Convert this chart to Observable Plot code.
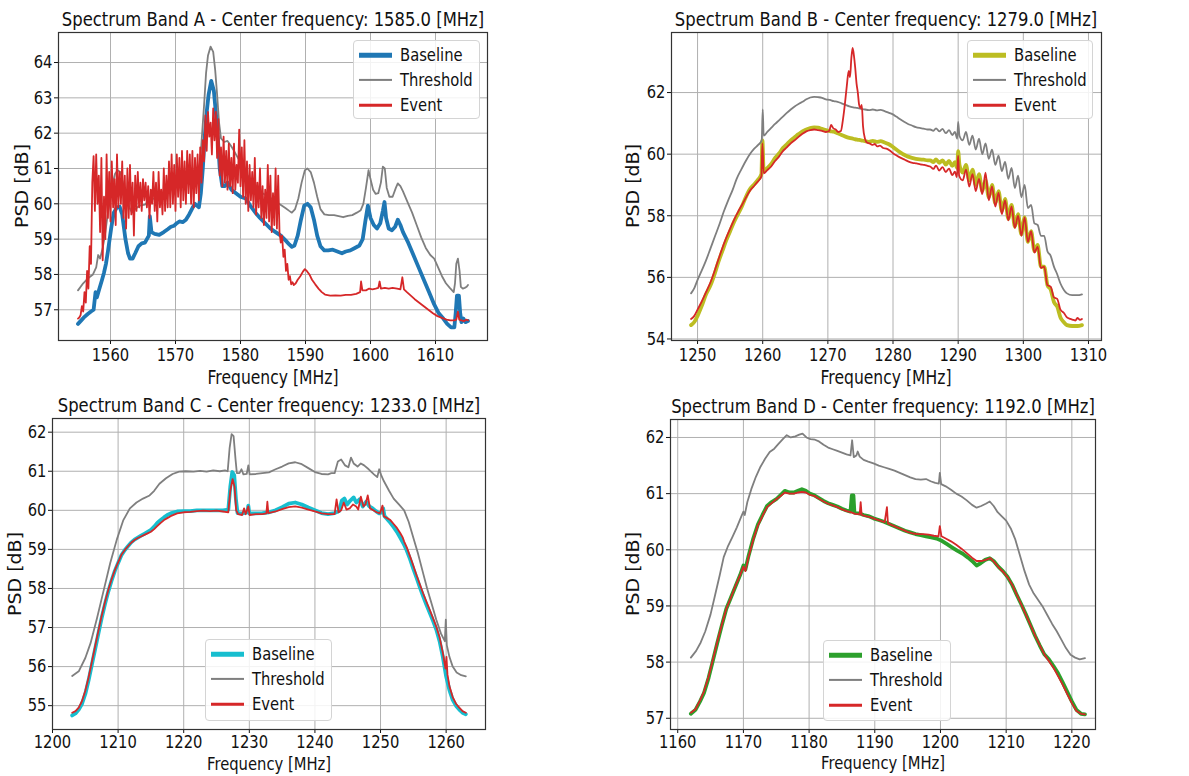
<!DOCTYPE html>
<html>
<head>
<meta charset="utf-8">
<script src="https://cdn.jsdelivr.net/npm/d3@7"></script>
<script src="https://cdn.jsdelivr.net/npm/@observablehq/plot@0.6"></script>
<style>
  html, body { margin: 0; padding: 0; background: #fff; }
  #root { position: relative; width: 1189px; height: 776px; background: #fff; font-family: "DejaVu Sans", sans-serif; color: #111; overflow: hidden; }
  .txt { position: absolute; white-space: nowrap; line-height: 1; }
  .legend { position: absolute; border: 1px solid #d4d4d4; border-radius: 4px; background: rgba(255,255,255,0.85); box-sizing: border-box; }
  .legend .row { position: absolute; left: 0; right: 0; height: 0; }
  .legend .sw { position: absolute; transform: translateY(-50%); }
  .legend .lb { position: absolute; transform: translateY(-50%) scaleX(0.82); transform-origin: 0 50%; font-size: 18px; white-space: nowrap; line-height: 1; }
  svg { position: absolute; }
</style>
</head>
<body>
<div id="root"></div>
<script>
// ---------------- DATA ----------------
const seriesNames = ["Baseline", "Threshold", "Event"];
const titles = [
  "Spectrum Band A - Center frequency: 1585.0 [MHz]",
  "Spectrum Band B - Center frequency: 1279.0 [MHz]",
  "Spectrum Band C - Center frequency: 1233.0 [MHz]",
  "Spectrum Band D - Center frequency: 1192.0 [MHz]"
];
const baselineColors = ["#1f77b4", "#bcbd22", "#17becf", "#2ca02c"];

// Band A
const aTicksX = [1560, 1570, 1580, 1590, 1600, 1610];
const aTicksY = [57, 58, 59, 60, 61, 62, 63, 64];
const aBaseline = [[1555,56.6],[1555.5,56.7],[1556,56.8],[1556.5,56.88],[1557,56.95],[1557.4,57.0],[1557.7,57.5],[1557.9,57.35],[1558.3,57.6],[1558.7,57.85],[1559,58.05],[1559.3,58.3],[1559.6,58.65],[1560.1,59.3],[1560.5,59.75],[1561,59.9],[1561.4,59.92],[1561.8,59.7],[1562.3,59.0],[1562.7,58.6],[1563,58.45],[1563.4,58.45],[1563.8,58.6],[1564.3,58.8],[1564.8,58.88],[1565.3,58.9],[1565.9,59.1],[1566.05,59.65],[1566.3,59.2],[1566.8,59.15],[1567.5,59.12],[1568.2,59.2],[1568.8,59.28],[1569.3,59.35],[1569.8,59.38],[1570.2,59.45],[1570.6,59.5],[1571.1,59.48],[1571.6,59.55],[1572.1,59.7],[1572.6,59.88],[1573,60.0],[1573.3,59.95],[1573.6,59.9],[1573.9,60.3],[1574.2,61.0],[1574.5,61.9],[1574.8,62.6],[1575.1,63.1],[1575.5,63.48],[1575.9,63.2],[1576.2,62.6],[1576.5,61.9],[1576.8,61.0],[1577.2,60.5],[1577.6,60.5],[1578,60.6],[1578.6,60.4],[1579.3,60.3],[1580,60.2],[1580.8,60.15],[1581.5,59.95],[1582.3,59.75],[1583,59.6],[1583.8,59.45],[1584.6,59.3],[1585.4,59.2],[1586.2,59.1],[1587,58.95],[1587.5,58.85],[1587.9,58.78],[1588.3,58.82],[1588.8,59.1],[1589.3,59.55],[1589.8,59.95],[1590.3,60.0],[1590.8,59.9],[1591.3,59.55],[1591.8,59.1],[1592.3,58.8],[1592.9,58.68],[1593.5,58.68],[1594.2,58.7],[1594.9,58.65],[1595.6,58.6],[1596.2,58.65],[1596.9,58.68],[1597.6,58.75],[1598.3,58.82],[1598.8,59.0],[1599.2,59.5],[1599.6,59.95],[1600,59.6],[1600.5,59.4],[1601,59.3],[1601.5,59.45],[1601.9,59.8],[1602.15,60.05],[1602.4,59.6],[1602.8,59.3],[1603.3,59.25],[1603.8,59.35],[1604.2,59.55],[1604.6,59.4],[1605,59.2],[1605.8,58.9],[1606.6,58.55],[1607.4,58.2],[1608.2,57.85],[1609,57.5],[1609.8,57.15],[1610.5,56.9],[1611.2,56.75],[1611.8,56.6],[1612.4,56.5],[1612.9,56.5],[1613.1,56.9],[1613.3,57.4],[1613.6,57.4],[1613.8,56.9],[1614,56.65],[1614.3,56.75],[1614.6,56.65],[1615,56.68]];
const aThreshold = [[1555,57.55],[1555.8,57.75],[1556.6,57.9],[1557.3,58.0],[1557.8,58.2],[1558.1,58.55],[1558.4,58.45],[1558.8,58.75],[1559.1,59.05],[1559.5,59.6],[1559.9,60.1],[1560.3,60.55],[1560.7,60.85],[1561.1,60.95],[1561.5,60.9],[1561.9,60.6],[1562.4,60.2],[1562.9,59.9],[1563.3,59.75],[1563.8,59.85],[1564.5,59.95],[1565.3,59.98],[1566,60.1],[1566.7,60.15],[1567.5,60.2],[1568.3,60.3],[1569,60.38],[1569.8,60.45],[1570.6,60.5],[1571.4,60.58],[1572.2,60.62],[1572.9,60.7],[1573.4,60.8],[1573.8,61.2],[1574.1,62.0],[1574.4,62.8],[1574.7,63.7],[1575,64.2],[1575.4,64.45],[1575.8,64.3],[1576.1,63.8],[1576.4,63.1],[1576.7,62.3],[1577,61.85],[1577.5,61.75],[1578,61.78],[1578.5,61.65],[1579,61.5],[1579.6,61.3],[1580.2,61.1],[1580.9,60.85],[1581.7,60.65],[1582.5,60.48],[1583.4,60.3],[1584.3,60.2],[1585.2,60.1],[1586.1,59.98],[1586.9,59.88],[1587.5,59.8],[1587.9,59.75],[1588.4,59.85],[1588.9,60.15],[1589.4,60.6],[1589.9,60.95],[1590.3,61.0],[1590.8,60.9],[1591.3,60.6],[1591.8,60.2],[1592.3,59.85],[1592.9,59.7],[1593.6,59.68],[1594.4,59.68],[1595.1,59.65],[1595.8,59.62],[1596.5,59.66],[1597.2,59.68],[1597.9,59.75],[1598.5,59.82],[1598.9,60.0],[1599.3,60.45],[1599.7,60.95],[1600,60.7],[1600.4,60.4],[1600.8,60.28],[1601.2,60.3],[1601.6,60.6],[1601.9,61.05],[1602.2,61.0],[1602.5,60.45],[1602.9,60.2],[1603.4,60.2],[1603.9,60.45],[1604.2,60.58],[1604.6,60.5],[1605,60.35],[1605.7,60.05],[1606.4,59.75],[1607.1,59.4],[1607.8,59.05],[1608.5,58.75],[1609.2,58.55],[1609.8,58.45],[1610.4,58.2],[1611,57.95],[1611.6,57.75],[1612.2,57.62],[1612.8,57.5],[1613,57.75],[1613.2,58.3],[1613.45,58.45],[1613.7,58.1],[1613.9,57.65],[1614.2,57.6],[1614.5,57.62],[1614.8,57.65],[1615,57.7]];
// Band A event: noisy section sampled from 1555.0 MHz every 0.2 MHz through 1586.0 MHz
const aEventFineStart = 1555;
const aEventFineStep = 0.2;
const aEventFine = [
  56.75, 56.78, 56.85, 57.1, 56.95,
  57.5, 57.2, 58.1, 57.6, 58.8,
  58.3, 60.6, 61.35, 59.8, 61.4,
  60.0, 60.8, 59.2, 61.3, 58.4,
  60.2, 59.0, 61.4, 59.6, 60.9,
  59.5, 61.2, 59.9, 60.7, 59.4,
  61.4, 59.9, 60.9, 60.0, 61.2,
  59.6, 60.8, 59.3, 61.0, 59.6,
  61.1, 59.7, 60.6, 59.1, 60.8,
  59.8, 60.9, 59.9, 60.6, 59.8,
  60.7, 60.1, 60.6, 59.9, 60.5,
  59.6, 60.4, 60.0, 60.9, 59.8,
  60.6, 59.5, 60.9, 59.9, 60.4,
  59.7, 61.0, 59.8, 60.8, 59.9,
  61.2, 59.9, 61.4, 60.0, 61.1,
  59.8, 61.4, 60.2, 61.3, 59.9,
  61.5, 60.1, 61.2, 60.0, 61.5,
  60.3, 61.4, 60.0, 61.5, 59.9,
  61.3, 60.3, 61.4, 60.1, 61.6,
  60.6, 61.8, 61.2, 62.5, 61.5,
  62.6, 61.9, 62.3, 61.4, 62.7,
  61.8, 62.6, 61.3, 62.4, 60.8,
  61.6, 60.5, 61.9, 60.6, 61.5,
  60.4, 61.7, 60.5, 61.3, 60.3,
  61.7, 60.4, 61.1, 60.6, 62.1,
  60.5, 61.6, 60.2, 61.8, 60.0,
  61.2, 59.8, 61.1, 60.1, 60.9,
  59.9, 61.3, 59.7, 60.6, 59.9,
  61.0, 59.6, 60.5, 59.4, 60.4,
  59.6, 61.1, 59.5, 60.8, 59.2,
  60.3, 59.4, 61.0, 59.3, 60.8,
  59.2
];
const aEventTail = [[1586.2,58.9],[1586.4,59.1],[1586.6,58.5],[1586.8,58.7],[1587,58.1],[1587.2,58.3],[1587.4,57.85],[1587.6,57.95],[1587.8,57.72],[1588,57.78],[1588.2,57.7],[1588.5,57.75],[1588.8,57.85],[1589.2,57.95],[1589.6,58.08],[1589.9,58.15],[1590.2,58.1],[1590.6,58.0],[1591.0,57.85],[1591.5,57.72],[1592,57.6],[1592.5,57.5],[1593,57.43],[1593.8,57.4],[1594.6,57.41],[1595.4,57.4],[1596.2,57.42],[1597,57.42],[1597.8,57.45],[1598.4,57.5],[1598.55,57.8],[1598.75,57.55],[1599.3,57.55],[1599.8,57.6],[1600.3,57.58],[1600.8,57.6],[1601.2,57.62],[1601.4,57.8],[1601.6,57.6],[1602.2,57.62],[1602.8,57.6],[1603.4,57.62],[1604.1,57.6],[1604.6,57.58],[1604.9,57.92],[1605.15,57.58],[1605.6,57.5],[1606.2,57.4],[1606.8,57.3],[1607.5,57.2],[1608.2,57.1],[1608.9,57.0],[1609.6,56.9],[1610.3,56.82],[1611,56.77],[1611.7,56.72],[1612.3,56.7],[1612.9,56.7],[1613.2,56.72],[1613.45,56.95],[1613.65,56.72],[1614,56.7],[1614.4,56.68],[1614.7,56.72],[1615,56.7]];

// Band B
const bTicksX = [1250, 1260, 1270, 1280, 1290, 1300, 1310];
const bTicksY = [54, 56, 58, 60, 62];
const bBaseline = [[1249,54.45],[1249.5,54.55],[1250,54.75],[1250.6,55.05],[1251.3,55.45],[1252,55.75],[1252.6,56.1],[1253.2,56.5],[1253.8,56.85],[1254.4,57.2],[1255,57.5],[1255.6,57.8],[1256.2,58.05],[1256.8,58.3],[1257.4,58.6],[1258,58.85],[1258.6,59.0],[1259.2,59.15],[1259.8,59.35],[1259.95,60.45],[1260.15,59.45],[1260.7,59.55],[1261.3,59.68],[1261.9,59.88],[1262.5,60.02],[1263.1,60.2],[1263.7,60.32],[1264.3,60.45],[1264.9,60.55],[1265.5,60.65],[1266.1,60.74],[1266.7,60.8],[1267.3,60.85],[1267.9,60.87],[1268.5,60.86],[1269.1,60.82],[1269.7,60.78],[1270.3,60.75],[1270.9,60.73],[1271.5,60.68],[1272.1,60.62],[1272.7,60.57],[1273.3,60.53],[1273.9,60.5],[1274.5,60.47],[1275.1,60.45],[1275.7,60.42],[1276.3,60.4],[1276.9,60.43],[1277.5,60.4],[1278.1,60.42],[1278.7,60.38],[1279.3,60.33],[1279.9,60.25],[1280.5,60.15],[1281.1,60.06],[1281.7,59.98],[1282.3,59.92],[1282.9,59.88],[1283.5,59.85],[1284.1,59.83],[1284.7,59.82],[1285.3,59.8],[1285.7,59.8],[1286.2,59.74],[1286.6,59.83],[1287.1,59.72],[1287.6,59.8],[1288.1,59.66],[1288.6,59.78],[1289.1,59.62],[1289.5,59.74],[1289.85,59.55],[1290.0,60.1],[1290.2,59.65],[1290.7,59.4],[1291.2,59.65],[1291.7,59.15],[1292.2,59.5],[1292.7,59.0],[1293.2,59.35],[1293.7,58.8],[1294.2,59.15],[1294.7,58.6],[1295.2,59.0],[1295.7,58.4],[1296.2,58.8],[1296.7,58.15],[1297.2,58.55],[1297.7,57.9],[1298.2,58.35],[1298.7,57.65],[1299.2,58.05],[1299.7,57.4],[1300.2,57.95],[1300.7,57.15],[1301.2,57.5],[1301.7,56.85],[1302.2,57.05],[1302.7,56.35],[1303.2,56.35],[1303.7,55.75],[1304.2,55.6],[1304.7,55.2],[1305.2,55.05],[1305.7,54.7],[1306.2,54.55],[1306.7,54.45],[1307.5,54.42],[1308.3,54.42],[1309,54.45]];
const bThreshold = [[1249,55.48],[1249.5,55.65],[1250,55.92],[1250.6,56.2],[1251.3,56.55],[1252,56.95],[1252.7,57.35],[1253.4,57.75],[1254,58.12],[1254.7,58.5],[1255.4,58.85],[1256,59.2],[1256.7,59.5],[1257.4,59.78],[1258.1,60.02],[1258.7,60.18],[1259.3,60.3],[1259.85,60.45],[1260,61.45],[1260.15,60.6],[1260.7,60.72],[1261.3,60.85],[1261.9,60.98],[1262.5,61.1],[1263.1,61.22],[1263.7,61.34],[1264.3,61.45],[1264.9,61.55],[1265.5,61.63],[1266.1,61.7],[1266.7,61.78],[1267.3,61.84],[1267.9,61.86],[1268.5,61.85],[1269.1,61.83],[1269.7,61.78],[1270.3,61.76],[1270.9,61.72],[1271.5,61.7],[1272.1,61.65],[1272.7,61.6],[1273.3,61.55],[1273.9,61.52],[1274.5,61.5],[1275.1,61.47],[1275.7,61.45],[1276.3,61.43],[1276.9,61.45],[1277.5,61.42],[1278.1,61.44],[1278.7,61.4],[1279.3,61.35],[1279.9,61.3],[1280.5,61.22],[1281.1,61.13],[1281.7,61.05],[1282.3,60.98],[1282.9,60.93],[1283.5,60.88],[1284.1,60.85],[1284.7,60.83],[1285.3,60.8],[1285.7,60.8],[1286.2,60.76],[1286.6,60.84],[1287.1,60.74],[1287.6,60.82],[1288.1,60.68],[1288.6,60.78],[1289.1,60.62],[1289.5,60.72],[1289.85,60.5],[1290.0,61.05],[1290.2,60.6],[1290.7,60.45],[1291.2,60.72],[1291.7,60.3],[1292.2,60.6],[1292.7,60.15],[1293.2,60.5],[1293.7,60.0],[1294.2,60.35],[1294.7,59.85],[1295.2,60.15],[1295.7,59.65],[1296.2,59.95],[1296.7,59.45],[1297.2,59.75],[1297.7,59.2],[1298.2,59.55],[1298.7,58.9],[1299.2,59.3],[1299.7,58.6],[1300.2,59.0],[1300.7,58.25],[1301.2,58.35],[1301.7,57.75],[1302.2,57.7],[1302.7,57.35],[1303.2,57.35],[1303.7,56.85],[1304.2,56.7],[1304.7,56.35],[1305.2,56.1],[1305.7,55.8],[1306.2,55.6],[1306.7,55.48],[1307.5,55.42],[1308.3,55.42],[1309,55.45]];
const bEvent = [[1249,54.65],[1249.5,54.75],[1250,54.95],[1250.6,55.2],[1251.3,55.52],[1252,55.85],[1252.6,56.2],[1253.2,56.58],[1253.8,56.95],[1254.4,57.28],[1255,57.58],[1255.6,57.87],[1256.2,58.12],[1256.8,58.35],[1257.4,58.58],[1258,58.8],[1258.6,58.95],[1259.2,59.1],[1259.8,59.28],[1259.95,60.35],[1260.15,59.38],[1260.7,59.48],[1261.3,59.6],[1261.9,59.78],[1262.5,59.92],[1263.1,60.1],[1263.7,60.22],[1264.3,60.35],[1264.9,60.45],[1265.5,60.56],[1266.1,60.66],[1266.7,60.74],[1267.3,60.78],[1267.9,60.8],[1268.5,60.78],[1269.1,60.76],[1269.7,60.72],[1270.2,60.75],[1270.5,60.95],[1270.8,60.85],[1271.2,60.8],[1271.6,60.72],[1272.0,60.75],[1272.3,61.1],[1272.6,61.6],[1272.9,62.2],[1273.2,62.7],[1273.4,62.5],[1273.6,63.1],[1273.8,63.45],[1274.0,63.2],[1274.2,62.8],[1274.4,62.3],[1274.6,62.0],[1274.8,61.6],[1275.0,61.5],[1275.2,61.6],[1275.4,60.9],[1275.7,60.5],[1276.0,60.38],[1276.4,60.35],[1276.8,60.3],[1277.2,60.33],[1277.6,60.25],[1278.0,60.28],[1278.5,60.2],[1279.0,60.18],[1279.5,60.12],[1280,60.03],[1280.6,59.95],[1281.2,59.88],[1281.8,59.82],[1282.4,59.76],[1283,59.72],[1283.6,59.7],[1284.2,59.67],[1284.8,59.65],[1285.3,59.62],[1285.7,59.6],[1286.2,59.52],[1286.6,59.63],[1287.1,59.47],[1287.6,59.58],[1288.1,59.42],[1288.6,59.53],[1289.1,59.32],[1289.5,59.43],[1289.8,59.25],[1290.0,59.95],[1290.15,59.3],[1290.7,59.15],[1291.2,59.5],[1291.7,58.95],[1292.2,59.35],[1292.7,58.8],[1293.2,59.2],[1293.7,58.7],[1294.2,59.4],[1294.7,58.5],[1295.2,58.95],[1295.7,58.3],[1296.2,58.75],[1296.7,58.05],[1297.2,58.5],[1297.7,57.85],[1298.2,58.3],[1298.7,57.6],[1299.2,58.0],[1299.7,57.35],[1300.2,57.95],[1300.7,57.15],[1301.2,57.5],[1301.7,56.8],[1302.2,57.0],[1302.7,56.3],[1303.2,56.35],[1303.7,55.75],[1304.2,55.7],[1304.7,55.35],[1305.2,55.3],[1305.7,54.95],[1306.2,54.85],[1306.7,54.7],[1307.2,54.65],[1307.7,54.62],[1308.0,54.6],[1308.3,54.68],[1308.7,54.62],[1309.0,54.65]];

// Band C
const cTicksX = [1200, 1210, 1220, 1230, 1240, 1250, 1260];
const cTicksY = [55, 56, 57, 58, 59, 60, 61, 62];
const cBaseline = [[1203,54.75],[1203.5,54.8],[1204,54.9],[1204.5,55.05],[1205,55.3],[1205.5,55.65],[1206,56.05],[1206.5,56.45],[1207,56.85],[1207.5,57.25],[1208,57.6],[1208.5,57.92],[1209,58.2],[1209.5,58.45],[1210,58.65],[1210.5,58.85],[1211,58.98],[1211.5,59.08],[1212,59.18],[1212.5,59.25],[1213,59.3],[1213.5,59.35],[1214,59.4],[1214.5,59.45],[1215,59.5],[1215.5,59.58],[1216,59.68],[1216.5,59.75],[1217,59.82],[1217.5,59.88],[1218,59.92],[1219,59.97],[1220,59.98],[1221,59.98],[1222,60.0],[1223,60.0],[1224,60.0],[1225,60.0],[1226,60.0],[1226.8,60.02],[1227.1,60.6],[1227.4,60.98],[1227.7,60.9],[1227.95,60.3],[1228.2,59.93],[1229,59.92],[1229.7,59.95],[1229.85,60.12],[1230.0,59.92],[1231,59.92],[1232,59.93],[1233,59.95],[1234,60.0],[1235,60.08],[1236,60.17],[1237,60.2],[1238,60.15],[1239,60.07],[1240,60.0],[1241,59.93],[1242,59.9],[1243,59.93],[1243.7,59.98],[1244.1,60.25],[1244.5,60.3],[1244.9,60.15],[1245.4,60.25],[1245.9,60.33],[1246.3,60.2],[1246.8,60.28],[1247.3,60.1],[1247.8,60.22],[1248.3,60.1],[1248.8,60.05],[1249.3,59.98],[1249.8,59.92],[1250.2,59.95],[1250.4,60.05],[1250.6,59.85],[1251,59.78],[1251.5,59.68],[1252,59.57],[1252.5,59.45],[1253,59.3],[1253.5,59.15],[1254,58.97],[1254.5,58.75],[1255,58.5],[1255.5,58.27],[1256,58.03],[1256.5,57.8],[1257,57.58],[1257.5,57.38],[1258,57.17],[1258.5,56.95],[1259,56.65],[1259.5,56.25],[1260,55.75],[1260.5,55.4],[1261,55.15],[1261.5,55.0],[1262,54.9],[1262.5,54.82],[1263,54.78]];
const cThreshold = [[1203,55.76],[1204,55.88],[1205,56.22],[1205.8,56.6],[1206.8,57.25],[1207.8,57.95],[1208.8,58.65],[1209.8,59.25],[1210.8,59.75],[1211.8,60.05],[1212.8,60.2],[1213.8,60.3],[1214.8,60.38],[1215.5,60.5],[1216.3,60.68],[1217.3,60.82],[1218.3,60.93],[1219.3,60.99],[1220.3,61.0],[1221.5,60.99],[1222.5,61.01],[1223.5,60.99],[1224.5,61.02],[1225.5,61.0],[1226.3,61.02],[1226.7,61.0],[1227,61.6],[1227.3,61.95],[1227.6,61.9],[1227.9,61.3],[1228.1,60.95],[1228.5,60.95],[1228.8,61.05],[1229.1,60.92],[1229.6,60.93],[1229.85,61.15],[1230.05,60.92],[1231,60.93],[1232,60.95],[1233,60.97],[1234,61.05],[1235,61.12],[1236,61.2],[1237,61.23],[1238,61.18],[1239,61.08],[1240,60.98],[1241,60.93],[1242,60.92],[1242.5,60.95],[1243,60.95],[1243.5,61.25],[1244,61.3],[1244.6,61.15],[1245.1,61.1],[1245.5,61.35],[1245.9,61.2],[1246.5,61.12],[1247,61.2],[1247.5,61.15],[1248.2,61.05],[1249,60.92],[1249.5,60.85],[1249.8,61.05],[1250.1,60.9],[1250.5,60.75],[1251.3,60.5],[1252,60.3],[1252.8,60.15],[1253.6,60.0],[1254.3,59.7],[1255,59.3],[1255.7,58.9],[1256.4,58.45],[1257.1,58.0],[1257.8,57.6],[1258.5,57.2],[1259.2,56.85],[1259.8,56.65],[1259.95,57.2],[1260.1,56.55],[1260.5,56.25],[1261,56.0],[1261.6,55.85],[1262.3,55.78],[1263,55.75]];
const cEvent = [[1203,54.82],[1203.5,54.86],[1204,54.95],[1204.5,55.12],[1205,55.38],[1205.5,55.72],[1206,56.12],[1206.5,56.52],[1207,56.92],[1207.5,57.3],[1208,57.65],[1208.5,57.96],[1209,58.23],[1209.5,58.47],[1210,58.67],[1210.5,58.86],[1211,58.98],[1211.5,59.08],[1212,59.17],[1212.5,59.24],[1213,59.29],[1213.5,59.33],[1214,59.37],[1214.5,59.41],[1215,59.45],[1215.5,59.52],[1216,59.6],[1216.5,59.68],[1217,59.75],[1217.5,59.8],[1218,59.85],[1219,59.92],[1220,59.95],[1221,59.96],[1222,59.98],[1223,59.99],[1224,59.98],[1225,59.99],[1226,59.97],[1226.8,59.95],[1227.1,60.5],[1227.45,60.8],[1227.75,60.6],[1228,60.0],[1228.3,59.9],[1228.9,59.88],[1229.2,60.05],[1229.45,59.9],[1229.85,60.1],[1230.05,59.88],[1231,59.9],[1232,59.9],[1232.6,59.92],[1232.75,60.22],[1232.9,59.93],[1234,59.97],[1235,60.03],[1236,60.08],[1237,60.1],[1238,60.07],[1239,60.02],[1240,59.97],[1241,59.92],[1242,59.9],[1243,59.9],[1243.3,60.28],[1243.6,59.95],[1244,60.0],[1244.4,60.2],[1244.8,60.02],[1245.3,60.05],[1245.8,60.15],[1246.3,60.1],[1246.6,60.02],[1247,60.35],[1247.4,60.1],[1247.7,60.15],[1248.05,60.38],[1248.4,60.05],[1248.9,60.0],[1249.4,59.95],[1249.9,59.92],[1250.3,60.12],[1250.5,59.85],[1251,59.8],[1251.5,59.75],[1252,59.65],[1252.5,59.55],[1253,59.42],[1253.4,59.3],[1253.6,59.2],[1254,59.05],[1254.5,58.82],[1255,58.58],[1255.5,58.33],[1256,58.1],[1256.5,57.87],[1257,57.66],[1257.5,57.45],[1258,57.24],[1258.5,57.02],[1259,56.75],[1259.5,56.35],[1259.9,55.95],[1260.05,56.25],[1260.2,55.8],[1260.5,55.5],[1261,55.22],[1261.5,55.05],[1262,54.95],[1262.5,54.86],[1263,54.82]];

// Band D
const dTicksX = [1160, 1170, 1180, 1190, 1200, 1210, 1220];
const dTicksY = [57, 58, 59, 60, 61, 62];
const dBaseline = [[1162,57.08],[1162.7,57.15],[1163.4,57.3],[1164,57.45],[1164.7,57.72],[1165.3,58.0],[1166,58.33],[1166.7,58.65],[1167.4,58.95],[1168.1,59.15],[1168.8,59.35],[1169.5,59.55],[1170,59.72],[1170.3,59.65],[1170.8,59.9],[1171.5,60.2],[1172.2,60.45],[1172.9,60.62],[1173.6,60.78],[1174.3,60.85],[1175,60.9],[1175.7,60.98],[1176.3,61.05],[1177,61.02],[1177.7,61.02],[1178.3,61.05],[1178.9,61.08],[1179.5,61.05],[1180.1,61.0],[1180.8,60.97],[1181.5,60.92],[1182.2,60.87],[1182.9,60.83],[1183.6,60.8],[1184.3,60.77],[1185,60.73],[1185.7,60.7],[1186.3,60.68],[1186.5,60.97],[1186.75,60.97],[1186.9,60.66],[1187.6,60.65],[1188.3,60.62],[1189,60.6],[1189.8,60.56],[1190.6,60.53],[1191.4,60.5],[1192.2,60.46],[1193,60.42],[1193.8,60.38],[1194.6,60.34],[1195.4,60.31],[1196.2,60.28],[1197,60.26],[1197.8,60.24],[1198.6,60.22],[1199.4,60.2],[1200.2,60.16],[1201,60.1],[1201.8,60.04],[1202.6,59.98],[1203.4,59.93],[1204.2,59.86],[1205,59.78],[1205.5,59.72],[1206.1,59.76],[1206.8,59.82],[1207.5,59.85],[1208.1,59.8],[1208.8,59.7],[1209.5,59.62],[1210.2,59.52],[1210.9,59.38],[1211.6,59.2],[1212.3,59.03],[1213,58.85],[1213.7,58.66],[1214.4,58.47],[1215.1,58.3],[1215.8,58.14],[1216.5,58.05],[1217.2,57.93],[1217.9,57.8],[1218.6,57.64],[1219.3,57.47],[1220,57.3],[1220.7,57.15],[1221.4,57.08],[1222,57.07]];
const dThreshold = [[1162,58.08],[1162.8,58.2],[1163.5,58.35],[1164.2,58.55],[1165,58.85],[1165.7,59.2],[1166.4,59.55],[1167,59.87],[1167.6,60.05],[1168.3,60.22],[1169,60.4],[1169.7,60.6],[1170,60.68],[1170.2,60.62],[1170.6,60.85],[1171.2,61.08],[1171.9,61.3],[1172.6,61.48],[1173.3,61.62],[1174,61.74],[1174.7,61.8],[1175.3,61.88],[1176,61.97],[1176.6,62.04],[1177.2,62.0],[1177.9,62.02],[1178.5,62.05],[1179,62.07],[1179.6,62.0],[1180.2,61.97],[1180.9,61.96],[1181.5,61.93],[1182.2,61.87],[1182.9,61.82],[1183.6,61.79],[1184.3,61.76],[1185,61.73],[1185.7,61.7],[1186.3,61.68],[1186.55,61.95],[1186.8,61.65],[1187.2,61.68],[1187.4,61.75],[1187.7,61.66],[1188.3,61.6],[1189,61.57],[1189.8,61.54],[1190.6,61.5],[1191.4,61.47],[1192.2,61.44],[1193,61.41],[1193.8,61.37],[1194.6,61.33],[1195.4,61.29],[1196.2,61.26],[1197,61.25],[1197.8,61.26],[1198.5,61.22],[1199.2,61.19],[1199.75,61.18],[1199.9,61.37],[1200.1,61.17],[1200.8,61.13],[1201.6,61.07],[1202.4,61.0],[1203.2,60.95],[1204,60.88],[1204.8,60.8],[1205.5,60.75],[1206.2,60.78],[1206.9,60.82],[1207.5,60.86],[1208.1,60.78],[1208.7,60.67],[1209.3,60.6],[1210,60.52],[1210.7,60.38],[1211.4,60.18],[1212.1,59.9],[1212.8,59.62],[1213.5,59.38],[1214.2,59.22],[1214.9,59.1],[1215.6,58.98],[1216.3,58.83],[1217,58.68],[1217.7,58.55],[1218.4,58.4],[1219.1,58.25],[1219.8,58.13],[1220.5,58.08],[1221.2,58.05],[1222,58.07]];
const dEvent = [[1162,57.1],[1162.7,57.16],[1163.4,57.32],[1164,57.48],[1164.7,57.74],[1165.3,58.02],[1166,58.35],[1166.7,58.66],[1167.4,58.95],[1168.1,59.15],[1168.8,59.36],[1169.5,59.55],[1170,59.7],[1170.3,59.62],[1170.8,59.88],[1171.5,60.18],[1172.2,60.43],[1172.9,60.6],[1173.6,60.76],[1174.3,60.83],[1175,60.9],[1175.7,60.96],[1176.3,61.02],[1177,61.0],[1177.7,61.0],[1178.3,61.02],[1178.9,61.03],[1179.5,61.02],[1180.1,60.98],[1180.8,60.96],[1181.5,60.91],[1182.2,60.86],[1182.9,60.82],[1183.6,60.79],[1184.3,60.76],[1185,60.72],[1185.7,60.69],[1186.3,60.67],[1187,60.64],[1187.7,60.63],[1187.85,60.85],[1188.0,60.62],[1188.6,60.6],[1189.3,60.58],[1190,60.55],[1190.8,60.52],[1191.5,60.49],[1191.85,60.76],[1192.0,60.47],[1192.6,60.44],[1193.4,60.4],[1194.2,60.36],[1195,60.32],[1195.8,60.29],[1196.6,60.28],[1197.4,60.28],[1198.2,60.27],[1199,60.25],[1199.7,60.24],[1199.9,60.42],[1200.15,60.24],[1200.8,60.2],[1201.6,60.15],[1202.4,60.09],[1203.2,60.02],[1204,59.94],[1204.8,59.86],[1205.5,59.8],[1206.2,59.8],[1206.9,59.82],[1207.6,59.85],[1208.2,59.78],[1208.9,59.68],[1209.6,59.6],[1210.3,59.5],[1211,59.36],[1211.7,59.18],[1212.4,59.0],[1213.1,58.82],[1213.8,58.63],[1214.5,58.45],[1215.2,58.28],[1215.9,58.12],[1216.6,58.0],[1217.3,57.88],[1217.9,57.75],[1218.6,57.6],[1219.3,57.43],[1220,57.27],[1220.7,57.13],[1221.4,57.08],[1222,57.07]];

// ---------------- BUILD ----------------
const aEvent = aEventFine.map((v, i) => [+(aEventFineStart + i * aEventFineStep).toFixed(2), v]).concat(aEventTail);

const GRID = "#b0b0b0", THR = "#7f7f7f", EVT = "#d62728";
const SX = 0.82; // horizontal squeeze of the reference typography
const root = document.getElementById("root");

function addText(str, cx, cy, size, rotate) {
  const d = document.createElement("div");
  d.className = "txt";
  d.textContent = str;
  d.style.left = cx + "px";
  d.style.top = cy + "px";
  d.style.fontSize = size + "px";
  d.style.transform = rotate
    ? "translate(-50%, -50%) rotate(-90deg) scaleY(0.9)"
    : `translate(-50%, -50%) scaleX(${SX})`;
  root.appendChild(d);
}

function addLegend(left, top, w, h, baseColor) {
  const box = document.createElement("div");
  box.className = "legend";
  Object.assign(box.style, {left: left + "px", top: top + "px", width: w + "px", height: h + "px"});
  const colors = [baseColor, THR, EVT];
  const widths = [4.5, 2.2, 2.5];
  seriesNames.forEach((name, i) => {
    const row = document.createElement("div");
    row.className = "row";
    row.style.top = (14 + i * 25) + "px";
    const sw = document.createElement("div");
    sw.className = "sw";
    Object.assign(sw.style, {left: "5px", width: "33px", height: widths[i] + "px", background: colors[i]});
    const lb = document.createElement("div");
    lb.className = "lb";
    lb.style.left = "46px";
    lb.textContent = name;
    row.appendChild(sw); row.appendChild(lb);
    box.appendChild(row);
  });
  root.appendChild(box);
}

function panel(cfg) {
  const curve = cfg.curve || "linear";
  const chart = Plot.plot({
    width: cfg.width, height: cfg.height,
    marginLeft: cfg.ml, marginRight: cfg.mr, marginTop: 2, marginBottom: 30,
    style: {fontFamily: "DejaVu Sans", fontSize: "18px", color: "#111", background: "transparent", overflow: "visible"},
    x: {domain: cfg.xd, ticks: cfg.tx, tickFormat: "d", tickSize: 4, tickPadding: cfg.xPad, label: null},
    y: {domain: cfg.yd, ticks: cfg.ty, tickFormat: "d", tickSize: 4, tickPadding: 2, label: null},
    marks: [
      Plot.ruleX(cfg.tx.filter(t => t >= cfg.xd[0] && t <= cfg.xd[1]), {stroke: GRID, strokeWidth: 1}),
      Plot.ruleY(cfg.ty.filter(t => t >= cfg.yd[0] && t <= cfg.yd[1]), {stroke: GRID, strokeWidth: 1}),
      Plot.line(cfg.base, {x: d => d[0], y: d => d[1], stroke: cfg.color, strokeWidth: 3.8, curve}),
      Plot.line(cfg.thr, {x: d => d[0], y: d => d[1], stroke: THR, strokeWidth: 1.8, curve}),
      Plot.line(cfg.evt, {x: d => d[0], y: d => d[1], stroke: EVT, strokeWidth: 1.8, curve}),
      Plot.frame({stroke: "#333", strokeWidth: 1.2})
    ]
  });
  chart.querySelectorAll("text").forEach(t => {
    const tr = t.getAttribute("transform") || "";
    t.setAttribute("transform", (tr + ` scale(${SX},1)`).trim());
  });
  chart.style.left = cfg.left + "px";
  chart.style.top = cfg.top + "px";
  root.appendChild(chart);
  const fl = cfg.left + cfg.ml, fr = cfg.left + cfg.width - cfg.mr;
  const ft = cfg.top + 2, fb = cfg.top + cfg.height - 30;
  const cx = (fl + fr) / 2;
  addText(cfg.title, cx, ft - 13, 20);
  addText("Frequency [MHz]", cx, fb + cfg.xlOff, cfg.xlSize);
  addText("PSD [dB]", cfg.ylx, (ft + fb) / 2, 19, true);
  addLegend(cfg.leg[0], cfg.leg[1], cfg.leg[2], cfg.leg[3], cfg.color);
}

panel({title: titles[0], left: 0, top: 30, width: 594, height: 340, ml: 58, mr: 107,
  xd: [1552, 1618], yd: [56.13, 64.85], tx: aTicksX, ty: aTicksY,
  base: aBaseline, thr: aThreshold, evt: aEvent, color: baselineColors[0],
  ylx: 21.5, xPad: 4, xlOff: 37, xlSize: 19, leg: [353, 40, 127, 79]});
panel({title: titles[1], left: 594, top: 30, width: 595, height: 340, ml: 77, mr: 88,
  xd: [1246, 1312], yd: [53.95, 63.95], tx: bTicksX, ty: bTicksY,
  base: bBaseline, thr: bThreshold, evt: bEvent, color: baselineColors[1], curve: "monotone-x",
  ylx: 633, xPad: 4, xlOff: 37, xlSize: 19, leg: [967, 40, 126, 79]});
panel({title: titles[2], left: 0, top: 416, width: 594, height: 343, ml: 52, mr: 109,
  xd: [1200, 1266], yd: [54.39, 62.35], tx: cTicksX, ty: cTicksY,
  base: cBaseline, thr: cThreshold, evt: cEvent, color: baselineColors[2],
  ylx: 15, xPad: 2, xlOff: 35, xlSize: 18, leg: [205, 639, 127, 82]});
panel({title: titles[3], left: 594, top: 417, width: 595, height: 342, ml: 76, mr: 94,
  xd: [1158.9, 1223.6], yd: [56.8, 62.32], tx: dTicksX, ty: dTicksY,
  base: dBaseline, thr: dThreshold, evt: dEvent, color: baselineColors[3],
  ylx: 633, xPad: 2, xlOff: 34, xlSize: 18, leg: [823, 640, 128, 81]});
</script>
</body>
</html>
